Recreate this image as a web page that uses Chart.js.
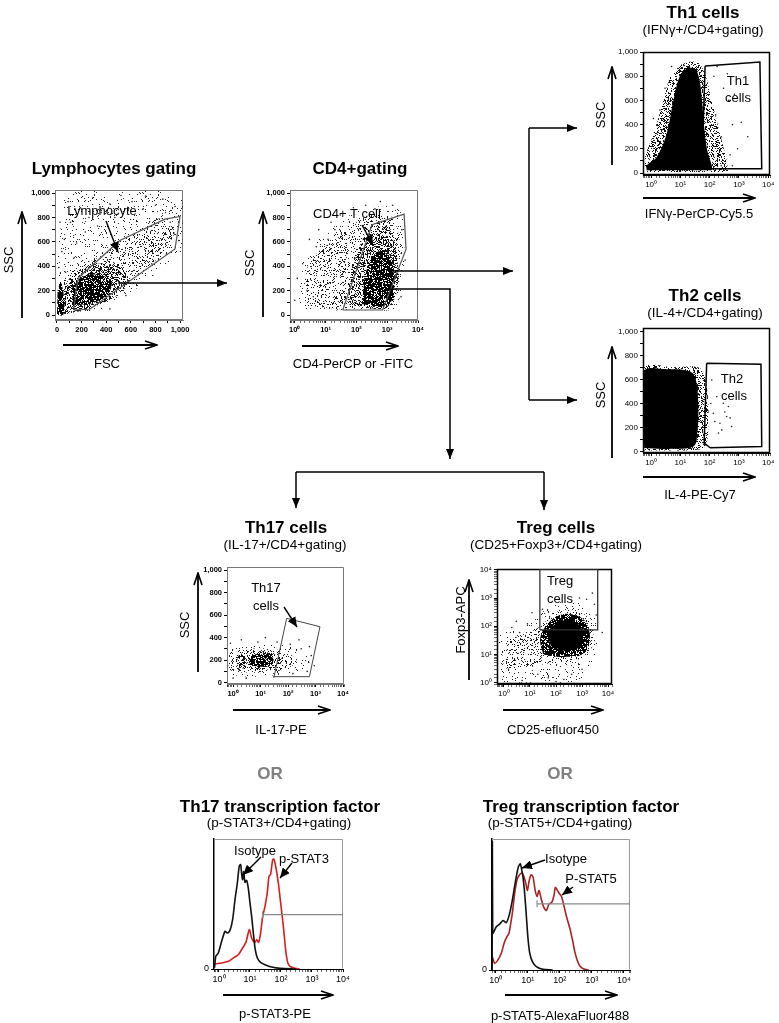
<!DOCTYPE html>
<html>
<head>
<meta charset="utf-8">
<title>CD4 T cell gating</title>
<script src="https://cdn.jsdelivr.net/npm/chart.js@4.4.1/dist/chart.umd.min.js"></script>
<style>
  body { margin: 0; background: #fff; font-family: "Liberation Sans", Arial, sans-serif; }
  #page { position: relative; width: 779px; height: 1023px; overflow: hidden; }
  #page canvas { position: absolute; }
  #arrows { position: absolute; left: 0; top: 0; z-index: 2; }
  .lbl { position: absolute; white-space: nowrap; transform: translate(-50%, -50%); font-size: 13px; line-height: 1; color: #000; z-index: 3; }
  .title { font-weight: bold; font-size: 17px; }
  .sub { font-size: 13.5px; }
  .or { font-weight: bold; font-size: 17px; color: #808080; }
  .rot { transform: translate(-50%, -50%) rotate(-90deg); }
</style>
</head>
<body>
<div id="page">
<svg id="arrows" width="779" height="1023">
  <defs>
    <marker id="head" viewBox="0 0 10 8" refX="10" refY="4" markerWidth="10" markerHeight="8" markerUnits="userSpaceOnUse" orient="auto"><path d="M0,0 L10,4 L0,8 z" fill="#000"/></marker>
    <marker id="small" viewBox="0 0 10 9" refX="10" refY="4.5" markerWidth="10" markerHeight="9" markerUnits="userSpaceOnUse" orient="auto"><path d="M0,0 L10,4.5 L0,9 z" fill="#000"/></marker>
    <marker id="open" viewBox="0 0 14 10" refX="13" refY="5" markerWidth="14" markerHeight="10" markerUnits="userSpaceOnUse" orient="auto"><path d="M1,1 L13,5 L1,9" fill="none" stroke="#000" stroke-width="1.6"/></marker>
  </defs>
  <!-- gating flow -->
  <g stroke="#000" stroke-width="1.5" fill="none">
    <line x1="118" y1="283" x2="227" y2="283" marker-end="url(#head)"/>
    <line x1="388" y1="271" x2="513" y2="271" marker-end="url(#head)"/>
    <polyline points="390,289 450,289 450,459" marker-end="url(#head)"/>
    <line x1="529" y1="128" x2="529" y2="400"/>
    <line x1="529" y1="128" x2="577" y2="128" marker-end="url(#head)"/>
    <line x1="529" y1="400" x2="577" y2="400" marker-end="url(#head)"/>
    <line x1="296" y1="472" x2="544" y2="472"/>
    <line x1="296" y1="472" x2="296" y2="508" marker-end="url(#head)"/>
    <line x1="544" y1="472" x2="544" y2="510" marker-end="url(#head)"/>
  </g>
  <!-- pointers inside plots -->
  <g stroke="#000" stroke-width="1.4" fill="none">
    <line x1="106" y1="221" x2="118" y2="252" marker-end="url(#small)"/>
    <line x1="362" y1="225" x2="373" y2="245" marker-end="url(#small)"/>
    <line x1="284" y1="607" x2="297" y2="627" marker-end="url(#small)"/>
    <line x1="261" y1="857" x2="243" y2="875" marker-end="url(#small)"/>
    <line x1="292" y1="863" x2="280" y2="878" marker-end="url(#small)"/>
    <line x1="545" y1="860" x2="522" y2="868" marker-end="url(#small)"/>
    <line x1="573" y1="887" x2="562" y2="895" marker-end="url(#small)"/>
  </g>
  <!-- axis arrows -->
  <g stroke="#000" stroke-width="1.8" fill="none">
    <line x1="22" y1="318" x2="22" y2="212" marker-end="url(#open)"/>
    <line x1="63" y1="345" x2="157" y2="345" marker-end="url(#open)"/>
    <line x1="263" y1="317" x2="263" y2="212" marker-end="url(#open)"/>
    <line x1="302" y1="346" x2="398" y2="346" marker-end="url(#open)"/>
    <line x1="612" y1="165" x2="612" y2="67" marker-end="url(#open)"/>
    <line x1="643" y1="198" x2="755" y2="198" marker-end="url(#open)"/>
    <line x1="612" y1="458" x2="612" y2="347" marker-end="url(#open)"/>
    <line x1="643" y1="477" x2="755" y2="477" marker-end="url(#open)"/>
    <line x1="198" y1="672" x2="198" y2="573" marker-end="url(#open)"/>
    <line x1="233" y1="710" x2="330" y2="710" marker-end="url(#open)"/>
    <line x1="469" y1="680" x2="469" y2="580" marker-end="url(#open)"/>
    <line x1="503" y1="710" x2="603" y2="710" marker-end="url(#open)"/>
    <line x1="223" y1="995" x2="333" y2="995" marker-end="url(#open)"/>
    <line x1="505" y1="995" x2="617" y2="995" marker-end="url(#open)"/>
  </g>
</svg>
</div>
<script>
'use strict';

// Lymphocytes gating (FSC / SSC)
var lymphSparse = [[0,-10],[150,5],[400,60],[650,220],[900,420],[1020,520],[1020,1020],[120,1020],[30,720],[0,420]];
var lymphMedium = [[0,0],[200,30],[400,120],[600,280],[850,500],[960,720],[820,790],[560,620],[350,480],[150,380],[50,280],[0,150]];
var lymphDense = [[10,0],[180,30],[400,110],[560,230],[560,360],[400,420],[240,400],[110,310],[40,180],[10,60]];
var lymphCore = [[130,80],[300,100],[420,180],[440,280],[330,330],[200,310],[120,220]];
var lymphSpike = [[0,0],[50,0],[60,120],[30,270],[5,200]];
var lymphDots = [[60,620],[110,760],[40,520],[190,880],[290,960],[430,910],[160,590],[260,800],[360,840],[520,980],[610,930],[720,975],[860,950],[960,890],[25,760],[90,930],[660,330],[770,420],[890,500],[990,610],[15,390],[430,50],[560,160],[700,870],[140,470],[230,680],[330,730],[470,800],[580,860],[800,900],[920,760],[70,350]];
var lymphGate = [[136,41],[266,47],[959,542],[1000,808],[878,786],[511,611],[179,310],[158,233]];

// CD4+ gating (CD4 / SSC)
var cd4Sparse = [[1.4,50],[1.4,330],[2.5,500],[8,650],[30,760],[120,860],[600,890],[2500,860],[3600,600],[3000,250],[1800,60],[400,35],[40,35],[6,40]];
var cd4Medium = [[2.5,80],[2.5,380],[6,520],[20,620],[80,740],[300,830],[1200,820],[2400,650],[2600,350],[1800,110],[700,50],[100,50],[15,55]];
var cd4Dense = [[50,90],[80,400],[160,620],[450,760],[1200,720],[2100,480],[2000,180],[1000,60],[200,60]];
var cd4Core = [[150,90],[220,380],[500,520],[1200,470],[1700,250],[1200,90],[400,70]];
var cd4Dots = [[1.2,300],[1.8,420],[2.5,200],[3,620],[6,700],[15,760],[30,820],[80,880],[200,900],[600,930],[1500,900],[3000,700],[3800,450],[2800,150],[1,120],[5,560],[20,700],[4,150],[12,620],[400,870]];
var cd4Gate = [[36,41],[708,41],[4100,540],[3540,827],[320,740]];

// Th1 (IFNg / SSC)
var th1Halo = [[0.63,8],[0.63,132],[1.2,325],[2.3,545],[4.5,793],[9.8,890],[36,917],[69,821],[118,600],[225,325],[380,105],[430,8]];
var th1Core = [[0.71,22],[0.71,63],[1.56,132],[3.4,325],[5.8,600],[9.8,807],[16.5,862],[32,862],[45,766],[55,600],[65,380],[83,187],[118,63],[118,22]];
var th1Dots = [[300,700],[450,600],[160,480],[600,400],[250,300],[900,200],[1200,420],[500,150],[2000,300],[140,800],[3,700],[2,520],[1.2,450],[5,880],[400,820],[700,650],[180,880],[250,60],[600,60]];
var th1Gate = [[70,884],[5200,917],[6000,36],[54,36]];

// Th2 (IL-4 / SSC)
var th2Halo = [[0.56,8],[0.56,694],[5.8,703],[47,694],[79,542],[91,264],[69,42],[21,8]];
var th2Core = [[0.58,28],[0.58,667],[3.4,686],[21,667],[34,597],[41,375],[38,153],[28,42],[3.4,19]];
var th2Dots = [[134,319],[225,236],[380,292],[560,208],[118,597],[175,458],[295,403],[200,153],[436,375],[150,250],[260,180],[330,330],[110,400],[500,280]];
var th2Gate = [[79,736],[5650,728],[6000,42],[105,31],[65,69]];

// Th17 (IL-17 / SSC)
var th17Sparse = [[0.59,70],[0.59,300],[3,330],[20,345],[150,320],[450,250],[600,180],[300,110],[50,70],[5,50]];
var th17Medium = [[0.7,110],[0.7,270],[4,300],[25,300],[100,260],[200,190],[80,120],[10,90],[2,90]];
var th17Dense = [[1.6,130],[1.6,240],[6,280],[25,260],[60,210],[40,140],[10,110]];
var th17Core = [[4,160],[5,240],[15,250],[30,210],[20,150],[8,140]];
var th17Dots = [[0.8,350],[2,380],[8,360],[40,360],[120,340],[300,300],[700,240],[900,150],[500,100],[150,80],[30,50],[3,40],[1,40],[15,400],[250,380],[600,320]];
var th17Gate = [[89,571],[1450,497],[600,53],[31,53]];

// Treg (CD25 / Foxp3)
var tregSparse = [[0.63,1],[0.63,50],[3.2,80],[16,200],[63,500],[316,800],[2000,400],[4000,100],[3160,10],[630,1.1],[10,1]];
var tregMedium = [[1,3.2],[1,25],[6.3,50],[25,100],[100,316],[500,400],[2000,160],[2500,20],[630,6.3],[63,5],[6.3,3.2]];
var tregDense = [[32,10],[25,40],[63,160],[250,280],[1260,160],[2000,32],[1000,10],[160,8]];
var tregCore = [[63,20],[50,63],[126,140],[400,160],[1000,80],[900,20],[250,12.6]];
var tregDots = [[3,150],[8,120],[2,90],[1.5,3],[20,2],[50,1.5],[200,1.3],[400,2],[5,1.2],[1000,3],[3000,600],[800,1000],[1500,900],[4,60],[12,300],[30,400],[3500,250],[6000,60],[100,1.1],[2500,1500]];
var tregGate = [[24,74],[24,10700],[4000,10700],[4000,74]];

// Histograms (% of max)
var stat3Isotype = [[0.72,1],[0.79,9.7],[0.95,12.3],[1.22,21.3],[1.56,29],[1.85,27.7],[2.26,29.7],[2.75,38],[3.28,53.3],[3.9,66],[4.5,79],[5,80.3],[5.4,72.6],[5.8,68.7],[6.25,75],[6.9,66.7],[7.8,68.2],[8.8,62.3],[10,50.8],[11.3,40.5],[12.8,27.7],[14.8,14.9],[17.3,8.5],[22,5.1],[30.5,3.3],[50,1.5],[93,0.5],[300,0]];
var stat3 = [[0.75,4],[0.84,4.1],[1.22,4.6],[2,5.9],[2.9,8.5],[4.2,11],[5.8,16.2],[7.4,20.5],[9.5,30.3],[11.3,23.8],[14.5,20.5],[16.4,22.6],[19,20.5],[22,27.7],[25.7,40.5],[30.5,48.2],[36,58.5],[41,71.3],[46,72.6],[54,84.1],[59,84.6],[69,77.7],[82,66.2],[97.5,50.8],[119,32.8],[141,14.9],[164,5.1],[195,2],[282,0.5],[400,0]];
var stat3Marker = [[25.7,41.8],[10000,41.8]];
var stat5Isotype = [[0.776,0],[0.79,98],[0.81,30],[0.83,28],[1.05,33],[1.33,35],[1.7,37.8],[2.15,36.2],[2.61,41.3],[3.16,50.5],[3.83,62.5],[4.43,71.4],[5.1,78.6],[5.9,81.1],[6.5,76.5],[7.1,71.4],[8.1,57.4],[9.1,40.8],[10.2,24.2],[11.5,13.3],[14,6.4],[18.6,2.6],[30,0.5],[60,0]];
var stat5 = [[0.79,10.2],[0.93,5.1],[1.18,7.7],[1.5,12.8],[1.91,21.7],[2.32,26],[2.61,28.1],[2.94,35.2],[3.32,43.4],[3.93,58.7],[4.64,68.9],[5.6,72.7],[6.65,74],[7.7,70.9],[8.7,66.3],[9.8,60.7],[11,67.6],[12.7,72.7],[14.7,70.9],[17,61.2],[19.6,56.1],[22.6,60.7],[26.1,54.8],[31.6,48],[38,45.4],[46.4,50.5],[56,51.5],[65,56.1],[73,63],[83,61.2],[95,58.7],[113,56.1],[133,49.7],[162,40.8],[206,31.9],[249,23],[294,14],[348,7.7],[422,3.1],[562,0.8],[800,0]];
var stat5Marker = [[19.6,50.5],[15500,50.5]];

var logTickLabels = ['10\u2070', '10\u00b9', '10\u00b2', '10\u00b3', '10\u2074'];

// texts: [text, x, y, class]
var texts = [
  ['Lymphocytes gating', 114, 168, 'title'],
  ['Lymphocyte', 102, 210, ''],
  ['SSC', 8, 260, 'rot'],
  ['FSC', 107, 363, ''],
  ['CD4+gating', 360, 168, 'title'],
  ['CD4+ T cell', 347, 213, ''],
  ['SSC', 249, 263, 'rot'],
  ['CD4-PerCP or -FITC', 353, 363, ''],
  ['Th1 cells', 703, 12, 'title'],
  ['(IFN\u03b3+/CD4+gating)', 703, 30, 'sub'],
  ['Th1', 738, 80, ''],
  ['cells', 738, 97, ''],
  ['SSC', 600, 115, 'rot'],
  ['IFN\u03b3-PerCP-Cy5.5', 699, 213, ''],
  ['Th2 cells', 705, 295, 'title'],
  ['(IL-4+/CD4+gating)', 705, 313, 'sub'],
  ['Th2', 732, 378, ''],
  ['cells', 734, 395, ''],
  ['SSC', 600, 395, 'rot'],
  ['IL-4-PE-Cy7', 700, 494, ''],
  ['Th17 cells', 286, 527, 'title'],
  ['(IL-17+/CD4+gating)', 285, 545, 'sub'],
  ['Th17', 266, 587, ''],
  ['cells', 266, 605, ''],
  ['SSC', 184, 625, 'rot'],
  ['IL-17-PE', 281, 729, ''],
  ['Treg cells', 556, 527, 'title'],
  ['(CD25+Foxp3+/CD4+gating)', 556, 545, 'sub'],
  ['Treg', 560, 580, ''],
  ['cells', 560, 598, ''],
  ['Foxp3-APC', 460, 620, 'rot'],
  ['CD25-efluor450', 553, 729, ''],
  ['OR', 270, 773, 'or'],
  ['OR', 560, 773, 'or'],
  ['Th17 transcription factor', 280, 806, 'title'],
  ['(p-STAT3+/CD4+gating)', 279, 823, 'sub'],
  ['Isotype', 255, 850, ''],
  ['p-STAT3', 304, 858, ''],
  ['p-STAT3-PE', 275, 1013, ''],
  ['Treg transcription factor', 581, 806, 'title'],
  ['(p-STAT5+/CD4+gating)', 560, 823, 'sub'],
  ['Isotype', 566, 858, ''],
  ['P-STAT5', 591, 878, ''],
  ['p-STAT5-AlexaFluor488', 560, 1015, '']
];

var page = document.getElementById('page');
var svg = document.getElementById('arrows');
var YW = 34, XH = 18, PT = 8, PR = 14;

Chart.defaults.font.family = '"Liberation Sans", Arial, sans-serif';
Chart.defaults.color = '#000';

// grain texture for the dot clouds (a fill style, fixed per pixel)
function grain(x, y) {
  var n = (Math.imul(x, 374761393) + Math.imul(y, 668265263)) | 0;
  n = Math.imul(n ^ (n >>> 13), 1274126177);
  n ^= n >>> 16;
  return (n >>> 0) / 4294967296;
}

function stipple(density, color) {
  var c = document.createElement('canvas');
  c.width = 64; c.height = 64;
  var g = c.getContext('2d');
  g.fillStyle = color;
  for (var y = 0; y < 64; y++) {
    for (var x = 0; x < 64; x++) {
      if (grain(x, y) < density) g.fillRect(x, y, 1, 1);
    }
  }
  return g.createPattern(c, 'repeat');
}

var SPARSE = stipple(0.06, '#222');
var MEDIUM = stipple(0.18, '#1a1a1a');
var DENSE = stipple(0.42, '#111');
var HEAVY = stipple(0.8, '#000');
var HALO = stipple(0.33, '#111');

function pts(arr) {
  return arr.map(function (p) { return {x: p[0], y: p[1]}; });
}

function cloud(arr, style) {
  return {data: pts(arr), showLine: true, fill: 'shape', backgroundColor: style,
    borderColor: 'rgba(0,0,0,0)', borderWidth: 0, pointRadius: 0, tension: 0.35};
}

function dots(arr) {
  return {data: pts(arr), showLine: false, pointRadius: 0.8, pointBackgroundColor: '#222', pointBorderWidth: 0};
}

function gate(arr, color, width) {
  var closed = arr.concat([arr[0]]);
  return {data: pts(closed), showLine: true, fill: false, borderColor: color, borderWidth: width, pointRadius: 0, tension: 0};
}

function curve(arr, color) {
  return {data: pts(arr), showLine: true, fill: false, borderColor: color, borderWidth: 1.6, pointRadius: 0, tension: 0.25};
}

function marker(arr) {
  return {data: pts(arr), showLine: true, fill: false, borderColor: '#8a8a8a', borderWidth: 1.2,
    pointRadius: 3.5, pointStyle: 'line', rotation: 90, pointBorderColor: '#8a8a8a', pointBorderWidth: 1.2};
}

function isDecade(v) {
  var e = Math.log10(v);
  return Math.abs(e - Math.round(e)) < 1e-6;
}

function linAxis(min, max, font, border) {
  return {type: 'linear', min: min, max: max,
    ticks: {stepSize: 100, includeBounds: false, autoSkip: false, maxRotation: 0, padding: 2, font: font,
      callback: function (v) { return v % 200 === 0 ? v.toLocaleString('en-US') : ''; }},
    grid: {drawOnChartArea: false, tickLength: 3, color: '#000'},
    border: {color: border, width: 1}};
}

function logAxis(min, max, font, border) {
  return {type: 'logarithmic', min: min, max: max,
    ticks: {autoSkip: false, maxRotation: 0, padding: 2, font: font,
      callback: function (v) {
        if (!isDecade(v)) return '';
        return logTickLabels[Math.round(Math.log10(v))] || '';
      }},
    grid: {drawOnChartArea: false, tickLength: 3, color: '#000',
      tickWidth: function (c) { return c.tick && isDecade(c.tick.value) ? 1 : 0.6; }},
    border: {color: border, width: 1}};
}

function histY() {
  return {type: 'linear', min: 0, max: 100,
    afterBuildTicks: function (s) { s.ticks = [{value: 0}]; },
    ticks: {font: {size: 9}, padding: 2, callback: function () { return '0'; }},
    grid: {drawOnChartArea: false, tickLength: 3, color: '#000'},
    border: {color: '#000', width: 1.5}};
}

// box round the plot area
var framePlugin = {
  id: 'frame',
  beforeDatasetsDraw: function (chart, args, opts) {
    var a = chart.chartArea, ctx = chart.ctx;
    var l = Math.round(a.left) + 0.5, t = Math.round(a.top) + 0.5;
    var r = Math.round(a.right) - 0.5, b = Math.round(a.bottom) - 0.5;
    ctx.save();
    ctx.strokeStyle = opts.color;
    ctx.lineWidth = opts.width;
    ctx.beginPath();
    if (opts.open) {
      ctx.moveTo(l, t); ctx.lineTo(r, t); ctx.lineTo(r, b);
    } else {
      ctx.rect(l, t, r - l, b - t);
    }
    ctx.stroke();
    ctx.restore();
  }
};

var boldTick = {size: 7.5, weight: 'bold'};
var plainTick = {size: 8};

var panels = [
  {area: [55, 190, 183, 320], frame: {color: '#777', width: 1},
    x: linAxis(-16, 1024, boldTick, '#777'), y: linAxis(-41, 1025, boldTick, '#777'),
    datasets: [gate(lymphGate, '#555', 1.2), dots(lymphDots), cloud(lymphCore, HEAVY),
      cloud(lymphSpike, HEAVY), cloud(lymphDense, DENSE), cloud(lymphMedium, MEDIUM), cloud(lymphSparse, SPARSE)]},
  {area: [290, 190, 418, 320], frame: {color: '#777', width: 1},
    x: logAxis(0.743, 10000, boldTick, '#777'), y: linAxis(-41, 1025, boldTick, '#777'),
    datasets: [gate(cd4Gate, '#555', 1.2), dots(cd4Dots), cloud(cd4Core, HEAVY),
      cloud(cd4Dense, DENSE), cloud(cd4Medium, MEDIUM), cloud(cd4Sparse, SPARSE)]},
  {area: [643, 52, 770, 175], frame: {color: '#000', width: 1.5},
    x: logAxis(0.53, 11500, plainTick, '#000'), y: linAxis(-16.5, 1000, plainTick, '#000'),
    datasets: [gate(th1Gate, '#000', 1.5), dots(th1Dots), cloud(th1Core, '#000'), cloud(th1Halo, HALO)]},
  {area: [643, 328, 770, 453], frame: {color: '#000', width: 1.5},
    x: logAxis(0.53, 11500, plainTick, '#000'), y: linAxis(-13, 1031, plainTick, '#000'),
    datasets: [gate(th2Gate, '#000', 1.5), dots(th2Dots), cloud(th2Core, '#000'), cloud(th2Halo, HALO)]},
  {area: [227, 567, 344, 684], frame: {color: '#777', width: 1},
    x: logAxis(0.6, 10870, boldTick, '#777'), y: linAxis(-12, 1027, boldTick, '#777'),
    datasets: [gate(th17Gate, '#444', 1), dots(th17Dots), cloud(th17Core, HEAVY),
      cloud(th17Dense, DENSE), cloud(th17Medium, MEDIUM), cloud(th17Sparse, SPARSE)]},
  {area: [497, 569, 612, 684], frame: {color: '#000', width: 1.5},
    x: logAxis(0.54, 14200, plainTick, '#000'), y: logAxis(0.9, 10700, plainTick, '#000'),
    datasets: [gate(tregGate, '#333', 1.3), dots(tregDots), cloud(tregCore, '#000'),
      cloud(tregDense, HEAVY), cloud(tregMedium, MEDIUM), cloud(tregSparse, SPARSE)]},
  {area: [214, 839, 343, 969], frame: {color: '#999', width: 1, open: true},
    x: logAxis(0.69, 10000, {size: 9}, '#000'), y: histY(),
    datasets: [marker(stat3Marker), curve(stat3Isotype, '#111'), curve(stat3, '#d42020')]},
  {area: [492, 839, 630, 970], frame: {color: '#999', width: 1, open: true},
    x: logAxis(0.77, 15500, {size: 9}, '#000'), y: histY(),
    datasets: [marker(stat5Marker), curve(stat5Isotype, '#111'), curve(stat5, '#a82222')]}
];

panels.forEach(function (p) {
  var a = p.area;
  var w = a[2] - a[0] + YW + PR;
  var h = a[3] - a[1] + PT + XH;
  var cv = document.createElement('canvas');
  cv.width = w; cv.height = h;
  cv.style.left = (a[0] - YW) + 'px';
  cv.style.top = (a[1] - PT) + 'px';
  page.insertBefore(cv, svg);
  p.x.afterFit = function (s) { s.height = XH; };
  p.y.afterFit = function (s) { s.width = YW; };
  new Chart(cv, {
    type: 'scatter',
    data: {datasets: p.datasets},
    options: {
      responsive: false,
      animation: false,
      events: [],
      layout: {padding: {left: 0, top: PT, right: PR, bottom: 0}},
      plugins: {legend: {display: false}, tooltip: {enabled: false}, frame: p.frame},
      scales: {x: p.x, y: p.y}
    },
    plugins: [framePlugin]
  });
});

texts.forEach(function (t) {
  var d = document.createElement('div');
  d.className = 'lbl' + (t[3] ? ' ' + t[3] : '');
  d.textContent = t[0];
  d.style.left = t[1] + 'px';
  d.style.top = t[2] + 'px';
  page.appendChild(d);
});
</script>
</body>
</html>
